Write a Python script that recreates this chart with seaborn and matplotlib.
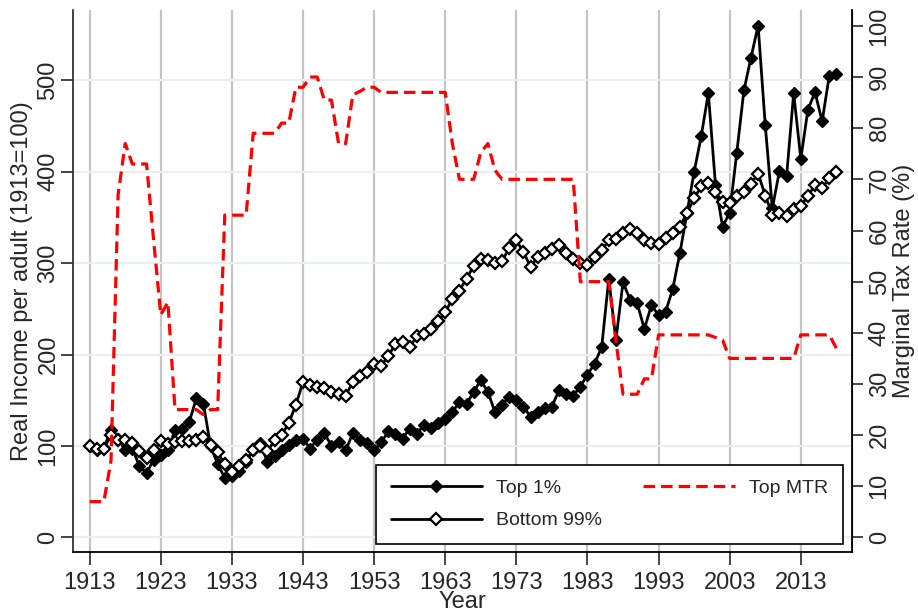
import matplotlib
matplotlib.use("Agg")
import matplotlib.pyplot as plt
import seaborn as sns

# data
years = list(range(1913, 2019))

top1 = [100, 96, 98, 117, 108, 95, 97, 78, 70, 85,
        90, 96, 117, 118, 126, 152, 146, 100, 80, 65,
        67, 73, 82, 96, 103, 82, 89, 95, 101, 106,
        108, 97, 107, 114, 100, 104, 95, 114, 107, 103,
        95, 104, 116, 113, 108, 119, 113, 123, 120, 125,
        130, 137, 148, 146, 159, 172, 159, 137, 145, 154,
        150, 143, 132, 137, 141, 143, 161, 157, 155, 165,
        178, 190, 208, 283, 216, 279, 260, 256, 228, 254,
        243, 247, 272, 311, 355, 400, 439, 486, 386, 340,
        355, 421, 489, 525, 560, 451, 360, 401, 395, 486,
        414, 468, 487, 455, 505, 507]

bottom99 = [100, 97, 97, 112, 106, 107, 103, 94, 87, 95,
            105, 102, 104, 105, 105, 106, 110, 101, 93, 80,
            72, 78, 85, 95, 100, 94, 106, 112, 125, 145,
            170, 167, 165, 163, 159, 157, 155, 170, 176, 181,
            190, 188, 198, 212, 214, 208, 220, 222, 228, 237,
            246, 261, 270, 283, 297, 304, 303, 300, 302, 317,
            325, 312, 296, 307, 311, 316, 320, 311, 305, 300,
            298, 307, 314, 325, 326, 333, 337, 333, 325, 322,
            321, 327, 333, 340, 355, 371, 384, 388, 378, 367,
            366, 374, 378, 387, 398, 374, 353, 355, 352, 359,
            363, 373, 386, 382, 393, 400]

top_mtr = [7, 7, 7, 15, 67, 77, 73, 73, 73, 58,
           43.5, 46, 25, 25, 25, 25, 24, 25, 25, 63,
           63, 63, 63, 79, 79, 79, 79, 81, 81, 88,
           88, 90, 90, 85.5, 85.5, 77, 77, 86.5, 87.2, 88,
           88, 87, 87, 87, 87, 87, 87, 87, 87, 87,
           87, 77, 70, 70, 70, 75.25, 77, 71.75, 70, 70,
           70, 70, 70, 70, 70, 70, 70, 70, 70, 50,
           50, 50, 50, 50, 38.5, 28, 28, 28, 31, 31,
           39.6, 39.6, 39.6, 39.6, 39.6, 39.6, 39.6, 39.6, 39.1, 38.6,
           35, 35, 35, 35, 35, 35, 35, 35, 35, 35,
           39.6, 39.6, 39.6, 39.6, 39.6, 37]

xticks = [1913, 1923, 1933, 1943, 1953, 1963, 1973, 1983, 1993, 2003, 2013]

sns.set_style("white")
plt.rcParams["font.family"] = ["Liberation Sans", "DejaVu Sans"]

fig = plt.figure(figsize=(9.18, 6.14), dpi=100)
ax = fig.add_axes([73.3 / 918, 1 - 552.3 / 614, (852 - 73.3) / 918, (552.3 - 10) / 614])
ax2 = ax.twinx()

sns.lineplot(x=years, y=top1, ax=ax, color="black", lw=2, marker="D", ms=6,
             markerfacecolor="black", markeredgecolor="black", markeredgewidth=1,
             label="Top 1%", legend=False, zorder=3)
sns.lineplot(x=years, y=bottom99, ax=ax, color="black", lw=2, marker="D", ms=6,
             markerfacecolor="white", markeredgecolor="black", markeredgewidth=1.6,
             label="Bottom 99%", legend=False, zorder=4)
sns.lineplot(x=years, y=top_mtr, ax=ax2, color="#ff0000", lw=2.3,
             dashes=False, label="Top MTR", legend=False)
ax2.lines[0].set_dashes((3.6, 1.9))
ax2.lines[0].set_dash_joinstyle("round")

ax.set_xlim(1910.7, 2020.2)
ax.set_ylim(-16.4, 577)
ax2.set_ylim(-2.9, 103.1)

ax.set_xticks(xticks)
ax.set_yticks([0, 100, 200, 300, 400, 500])
ax2.set_yticks([0, 10, 20, 30, 40, 50, 60, 70, 80, 90, 100])

ax.xaxis.grid(True, color="#c4c4c4", lw=1.6)
ax.yaxis.grid(True, color="#e6eff1", lw=1.6)
ax.set_axisbelow(True)

ax.spines["top"].set_visible(False)
for s in ["top", "left", "bottom"]:
    ax2.spines[s].set_visible(False)
ax.spines["left"].set_color("#333333")
ax.spines["bottom"].set_color("black")
ax2.spines["right"].set_color("black")
for sp in [ax.spines["left"], ax.spines["bottom"], ax2.spines["right"]]:
    sp.set_linewidth(1.3)

ax.tick_params(axis="x", direction="out", length=9, width=1.2, labelsize=17, pad=5, bottom=True)
ax.tick_params(axis="y", direction="out", length=9, width=1.2, labelsize=17, pad=1, left=True)
ax2.tick_params(axis="y", direction="out", length=8, width=1.2, labelsize=17, pad=4, right=True)
for t in ax.get_yticklabels():
    t.set_rotation(90)
    t.set_va("center")
for t in ax2.get_yticklabels():
    t.set_rotation(90)
    t.set_va("center")

ax.set_xlabel("Year", fontsize=17, labelpad=-2)
ax.set_ylabel("Real Income per adult (1913=100)", fontsize=17, labelpad=3)
ax2.set_ylabel("Marginal Tax Rate (%)", fontsize=17, labelpad=2)

handles = ax.get_lines()[:2] + ax2.get_lines()[:1]
labels = ["Top 1%", "Bottom 99%", "Top MTR"]
leg = ax2.legend(handles, labels, ncol=2, loc="lower right",
                 bbox_to_anchor=(843 / 918, 1 - 544 / 614), bbox_transform=fig.transFigure,
                 borderaxespad=0, fontsize=14, handlelength=4.7, handletextpad=0.75,
                 columnspacing=2.1, labelspacing=0.75, borderpad=0.75,
                 frameon=True, fancybox=False, edgecolor="black", framealpha=1)
leg.get_frame().set_linewidth(1.2)

fig.savefig("out.png", dpi=100)
